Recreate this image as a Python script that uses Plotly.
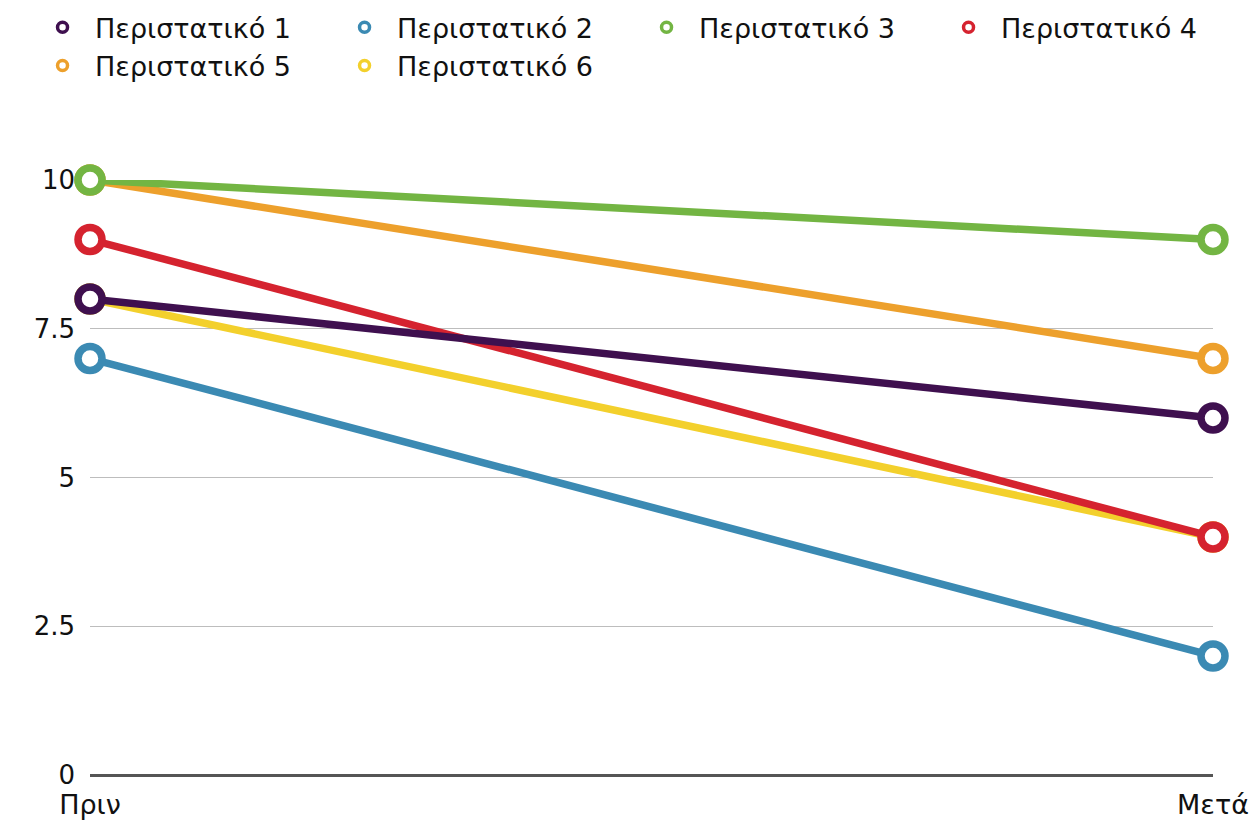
import plotly.graph_objects as go

categories = ["Πριν", "Μετά"]
series_names = ["Περιστατικό 1", "Περιστατικό 2", "Περιστατικό 3",
                "Περιστατικό 4", "Περιστατικό 5", "Περιστατικό 6"]
case1 = [8, 6]
case2 = [7, 2]
case3 = [10, 9]
case4 = [9, 4]
case5 = [10, 7]
case6 = [8, 4]
series_values = [case1, case2, case3, case4, case5, case6]
colors = ["#3f104f", "#3b8ab3", "#73b543", "#d5232f", "#eda02c", "#f3d02c"]
y_tick_vals = [0, 2.5, 5, 7.5, 10]
y_tick_text = ["0", "2.5", "5", "7.5", "10"]

FONT = "DejaVu Sans, Liberation Sans, Arial, sans-serif"

fig = go.Figure()
draw_order = [5, 4, 1, 3, 0, 2]
for i in draw_order:
    fig.add_trace(go.Scatter(
        x=categories, y=series_values[i], mode="lines+markers",
        name=series_names[i], showlegend=False,
        line=dict(color=colors[i], width=7.5),
        marker=dict(symbol="circle", size=24, color="white",
                    line=dict(color=colors[i], width=7.5)),
        cliponaxis=False,
    ))
for i in range(6):
    fig.add_trace(go.Scatter(
        x=[None], y=[None], mode="markers", name=series_names[i],
        marker=dict(symbol="circle", size=10, color="white",
                    line=dict(color=colors[i], width=3.5)),
    ))

fig.update_layout(
    width=1255, height=821,
    margin=dict(l=90, r=42, t=180, b=46, autoexpand=False),
    paper_bgcolor="white", plot_bgcolor="white",
    font=dict(family=FONT, size=24, color="#111"),
    legend=dict(orientation="h", x=-0.0534, xref="paper", y=1.297, yref="paper",
                yanchor="top", xanchor="left",
                entrywidth=232, entrywidthmode="pixels", itemwidth=55,
                font=dict(family=FONT, size=27, color="#111"),
                tracegroupgap=0, itemsizing="trace"),
    xaxis=dict(type="category", range=[0, 1], showgrid=False, zeroline=False,
               showline=False, ticks="", tickfont=dict(size=27),
               ticklabelstandoff=11, automargin=False),
    yaxis=dict(range=[0, 10], tickvals=y_tick_vals, ticktext=y_tick_text,
               showgrid=True, gridcolor="#bdbdbd", gridwidth=1.2,
               zeroline=True, zerolinecolor="#555", zerolinewidth=2.5,
               showline=False, ticks="", tickfont=dict(size=26),
               ticklabelstandoff=14, automargin=False),
)

fig.write_html("out.html")
